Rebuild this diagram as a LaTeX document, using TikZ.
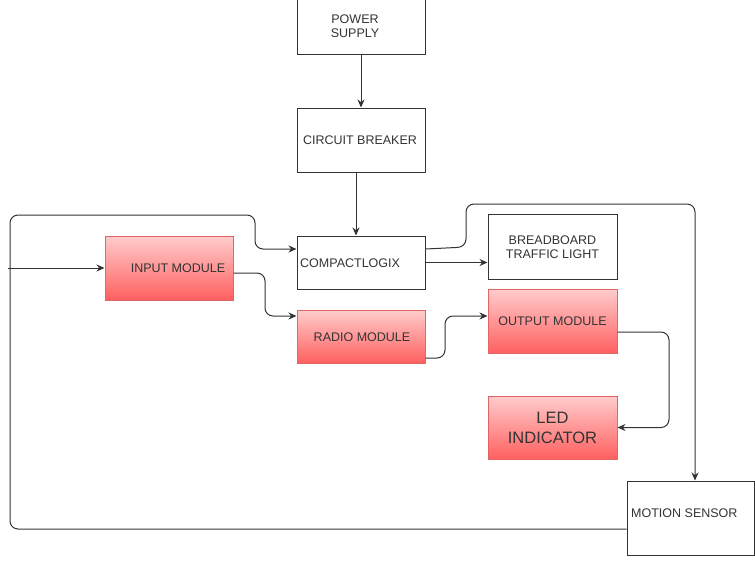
\documentclass[tikz,border=0pt]{standalone}
\usepackage{fontspec}
\setmainfont{Liberation Sans}
\usetikzlibrary{arrows.meta,calc}
\definecolor{ln}{HTML}{333333}
\definecolor{txt}{HTML}{333333}
\definecolor{redtop}{HTML}{FFCCCC}
\definecolor{redbot}{HTML}{FF6060}
\definecolor{redline}{HTML}{E06666}
\tikzset{
  plainbox/.style={draw=ln, line width=1pt, fill=white, inner sep=0pt},
  redbox/.style={draw=redline, line width=1pt, top color=redtop, bottom color=redbot, inner sep=0pt},
  lbl/.style={text=txt, font=\fontsize{12.5}{14.5}\selectfont, align=center, inner sep=0pt},
  arr/.style={draw=ln, line width=1pt, -{Stealth[length=8pt,width=7pt]}, rounded corners=8pt},
}
\begin{document}
\begin{tikzpicture}[x=1pt,y=-1pt]
\useasboundingbox (0,0) rectangle (755,565);
\clip (0,0) rectangle (755,565);
\fill[white] (0,0) rectangle (755,565);
% boxes
\node[plainbox, minimum width=128pt, minimum height=64pt] (ps) at (361,22) {};
\node[plainbox, minimum width=128pt, minimum height=64pt] (cb) at (361,140) {};
\node[plainbox, minimum width=128pt, minimum height=53pt] (cl) at (361,262.5) {};
\node[redbox, minimum width=128pt, minimum height=64pt] (in) at (169,268) {};
\node[redbox, minimum width=128pt, minimum height=53pt] (rm) at (361,336.5) {};
\node[plainbox, minimum width=129pt, minimum height=65pt] (btl) at (552.5,246.5) {};
\node[redbox, minimum width=129pt, minimum height=64pt] (om) at (552.5,321) {};
\node[redbox, minimum width=129pt, minimum height=63pt] (led) at (552.5,427.5) {};
\node[plainbox, minimum width=127pt, minimum height=74pt] (ms) at (690.5,518) {};
% texts
\node[lbl] (pst) at (355,26) {POWER\\SUPPLY};
\node[lbl] (cbt) at (360,140) {CIRCUIT BREAKER};
\node[lbl, anchor=west] (clt) at (300,263) {COMPACTLOGIX};
\node[lbl] (int) at (178,268) {INPUT MODULE};
\node[lbl] (rmt) at (362,337) {RADIO MODULE};
\node[lbl] (btlt) at (552.5,247) {BREADBOARD\\TRAFFIC LIGHT};
\node[lbl] (omt) at (552.5,321) {OUTPUT MODULE};
\node[lbl, font=\fontsize{16.5}{20}\selectfont] (ledt) at (552.5,428) {LED\\INDICATOR};
\node[lbl, anchor=west] (mst) at (631,513) {MOTION SENSOR};
% connectors
\coordinate (src) at (8,268);
\draw[arr] (ps) -- (cb);
\draw[arr] ([xshift=-5pt]cb.south) -- ([xshift=-5pt]cl.north);
\draw[arr] (src) -- (in.west);
\draw[arr] ([yshift=-5pt]in.east) -- (265,273) -- (265,316) -- ([yshift=20.5pt]rm.west);
\draw[arr] ([yshift=-11pt]ms.west) -- (10,529) -- (10,215) -- (255,215) -- (255,249) -- ([yshift=13.5pt]cl.west);
\draw[arr] ([yshift=13.5pt]cl.east) -- (466,247) -- (466,204) -- (695,204) -- ([xshift=4.5pt]ms.north);
\draw[arr] (cl.east) -- (cl.east -| btl.west);
\draw[arr] ([yshift=-21.5pt]rm.east) -- (445,358) -- (445,316) -- ([yshift=5pt]om.west);
\draw[arr] ([yshift=-11pt]om.east) -- (669,332) -- (669,427.5) -- (led.east);
\end{tikzpicture}
\end{document}
